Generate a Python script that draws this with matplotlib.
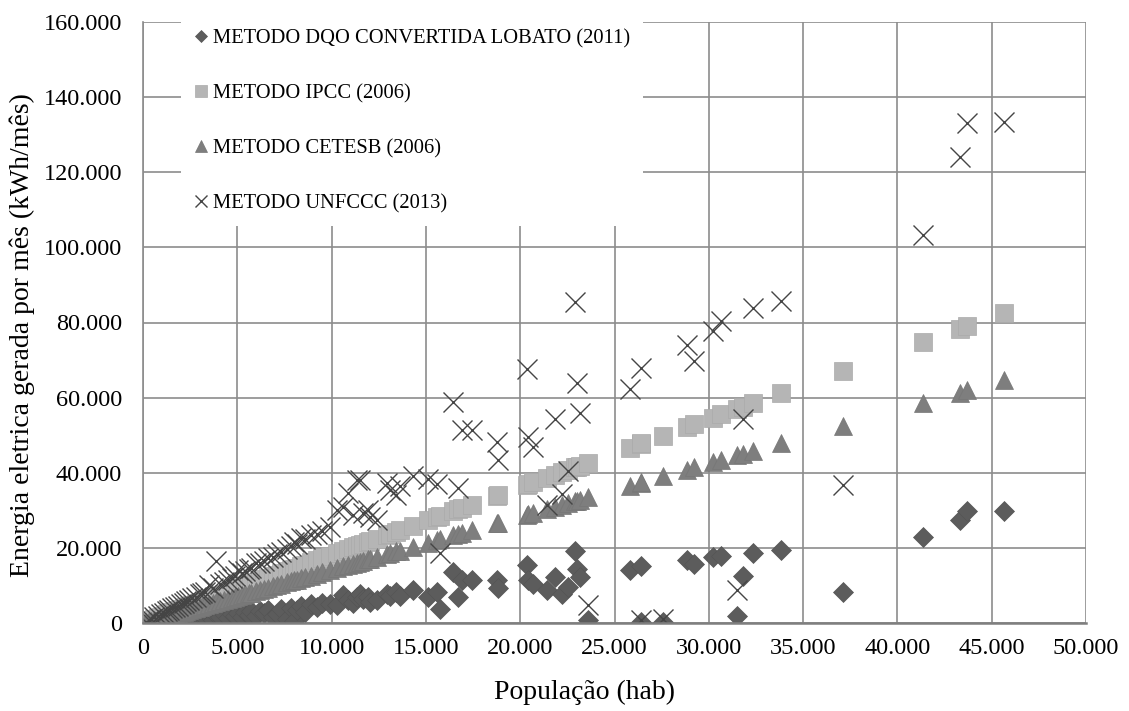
import matplotlib.pyplot as plt
from matplotlib.ticker import FuncFormatter, MultipleLocator

# population of each municipality (hab)
populacao = [
    150, 300, 450, 600, 800, 950, 1100, 1250, 1400, 1550, 1700, 1850, 2000,
    2150, 2300, 2450, 2600, 2800, 3000, 3150, 3300, 3500, 3700, 3870, 4100,
    4300, 4500, 4700, 4880, 5040, 5250, 5410, 5600, 5720, 5990, 6200, 6400,
    6650, 6900, 7100, 7300, 7620, 7850, 8000, 8150, 8400, 8600, 8900, 9200,
    9500, 9910, 10260, 10620, 10870, 11150, 11330, 11500, 11680, 11940, 12030,
    12390, 12920, 13090, 13440,
    13620, 14330, 15120, 15570, 15740, 16450, 16710, 16890, 17420, 18750,
    18830, 20340, 20400, 20690, 21400, 21840, 22190, 22540, 22900, 22990,
    23160, 23600, 25810, 26380, 26430, 27550, 28820, 29220, 30220, 30670,
    31470, 31800, 32320, 33850, 37100, 41360, 43300, 43700, 45650,
]

dqo_lobato = [
    50, 120, 100, 250, 200, 400, 300, 550, 350, 700, 500, 900, 600,
    1100, 700, 1300, 900, 1500, 1000, 1700, 1200, 1900, 800, 2000, 1500,
    2300, 1300, 2500, 1800, 2700, 1600, 2900, 2100, 3100, 1900, 3300, 2600,
    3500, 1500, 2500, 3800, 1170, 4000, 600, 3380, 4500, 2800, 5000, 4260,
    5300, 5170, 4800, 7460, 6040, 5200, 6800, 7830, 6500, 7000, 5600,
    6200, 7830, 7200, 8300,
    7320, 8710, 6930, 8260, 3840, 13580, 6930, 11370, 11370, 11370,
    9430, 15370, 11370, 10470, 8710, 12250, 7640, 9600, 19100, 14470,
    12250, 900, 14030, 15100, 270, 270, 16700, 15600, 17580, 17840,
    1870, 12440, 18740, 19540, 8180, 22900, 27530, 29750, 29830,
]

ipcc = [
    272, 543, 815, 1086, 1448, 1720, 1991, 2263, 2534, 2806, 3077, 3349, 3620,
    3892, 4163, 4435, 4706, 5068, 5430, 5702, 5973, 6335, 6697, 7005, 7421,
    7783, 8145, 8507, 8833, 9122, 9503, 9792, 10136, 10353, 10842, 11222, 11584,
    12037, 12489, 12851, 13213, 13792, 14209, 14480, 14752, 15204, 15566, 16109, 16652,
    17195, 17937, 18571, 19222, 19675, 20182, 20507, 20815, 21141, 21611, 21774,
    22426, 23385, 23693, 24326,
    24652, 25937, 27367, 28182, 28489, 29775, 30245, 30571, 31530, 33938,
    34082, 36815, 36924, 37449, 38734, 39530, 40164, 40797, 41449, 41612,
    41920, 42716, 46716, 47748, 47838, 49866, 52164, 52888, 54698, 55513,
    56961, 57558, 58499, 61269, 67151, 74862, 78373, 79097, 82627,
]

cetesb = [
    213, 425, 638, 850, 1134, 1346, 1559, 1771, 1984, 2196, 2409, 2621, 2834,
    3047, 3259, 3472, 3684, 3968, 4251, 4464, 4676, 4960, 5243, 5484, 5810,
    6093, 6377, 6660, 6915, 7142, 7439, 7666, 7935, 8105, 8488, 8785, 9069,
    9423, 9777, 10061, 10344, 10798, 11123, 11336, 11549, 11903, 12186, 12611, 13036,
    13462, 14042, 14538, 15049, 15403, 15800, 16055, 16296, 16551, 16919, 17047,
    17557, 18308, 18549, 19044,
    19300, 20306, 21425, 22063, 22304, 23310, 23678, 23933, 24684, 26569,
    26682, 28822, 28907, 29318, 30324, 30947, 31443, 31939, 32449, 32577,
    32818, 33441, 36573, 37380, 37451, 39038, 40838, 41405, 42822, 43459,
    44593, 45061, 45797, 47965, 52571, 58607, 61356, 61923, 64686,
]

unfccc = [
    350, 700, 1100, 1500, 1900, 2400, 2700, 3100, 3400, 3900, 4300, 4600, 5000,
    5400, 5800, 6200, 6600, 7000, 7600, 8000, 8300, 10000, 9400, 16430, 10300,
    10900, 11400, 12000, 12400, 14000, 13300, 13800, 14400, 14600, 15900, 16000, 16500,
    17200, 17700, 18300, 18900, 19700, 20500, 21500, 21000, 22500, 22300, 23500, 23700,
    24500, 25600, 30000, 30800, 34500, 28700, 38000, 38000, 29200, 30000, 28150,
    27350, 37200, 35350, 34000,
    36500, 39070, 38450, 37120, 18590, 58840, 35870, 51320, 51320, 48200,
    43330, 67560, 49530, 46870, 31500, 54430, 34460, 40500, 85490, 64020,
    55930, 4710, 62230, 68000, 900, 990, 73960, 69700, 77690, 80430,
    8710, 54430, 83730, 85670, 36670, 103170, 123940, 133170, 133280,
]

plt.rcParams['font.family'] = ['Liberation Serif', 'DejaVu Serif']

fig = plt.figure(figsize=(11.29, 7.11), dpi=100)
ax = fig.add_axes([143 / 1129, 1 - 623 / 711, (1086 - 143) / 1129, (623 - 22) / 711])

ax.plot(populacao, dqo_lobato, linestyle='none', marker='D', ms=9.8,
        color='#5c5c5c', mec='#555555', mew=0.5, label='METODO DQO CONVERTIDA LOBATO (2011)')
ax.plot(populacao, ipcc, linestyle='none', marker='s', ms=13.5,
        color='#b5b5b5', mec='#aaaaaa', mew=0.5, label='METODO IPCC (2006)')
ax.plot(populacao, cetesb, linestyle='none', marker='^', ms=13.5,
        color='#7e7e7e', mec='#767676', mew=0.5, label='METODO CETESB (2006)')
ax.plot(populacao, unfccc, linestyle='none', marker='x', ms=14,
        color='#454545', mew=1.0, label='METODO UNFCCC (2013)')

ax.set_xlim(0, 50000)
ax.set_ylim(0, 160000)
ax.xaxis.set_major_locator(MultipleLocator(5000))
ax.yaxis.set_major_locator(MultipleLocator(20000))

def milhar(v, pos):
    return f'{int(v):,}'.replace(',', '.')

ax.xaxis.set_major_formatter(FuncFormatter(milhar))
ax.yaxis.set_major_formatter(FuncFormatter(milhar))

ax.grid(True, color='#8c8c8c', linewidth=1.2)
ax.set_axisbelow(True)
ax.tick_params(length=0, labelsize=17.5)
ax.tick_params(axis='x', pad=11)
ax.tick_params(axis='y', pad=15)

for side in ['top', 'right']:
    ax.spines[side].set_visible(False)
ax.spines['left'].set_color('#8c8c8c')
ax.spines['left'].set_linewidth(1.2)
ax.spines['bottom'].set_color('#7f7f7f')
ax.spines['bottom'].set_linewidth(1.8)

ax.set_xlabel('População (hab)', fontsize=20, va='center')
ax.set_ylabel('Energia eletrica gerada por mês (kWh/mês)', fontsize=20, va='center')
ax.xaxis.set_label_coords((585 - 143) / (1086 - 143), -(692 - 623) / (623 - 22))
ax.yaxis.set_label_coords(-(143 - 22) / (1086 - 143), (623 - 335) / (623 - 22))

leg = ax.legend(loc='upper left', bbox_to_anchor=(171 / 1129, 1 - 6 / 711),
                bbox_transform=fig.transFigure, fontsize=14.8, markerscale=0.65,
                handlelength=0.75, handletextpad=0.2, labelspacing=1.74,
                borderpad=0.6, frameon=True, fancybox=False)
leg.get_frame().set_edgecolor('none')
leg.get_frame().set_facecolor('white')
leg.get_frame().set_alpha(1)

fig.savefig('out.png', dpi=100)
